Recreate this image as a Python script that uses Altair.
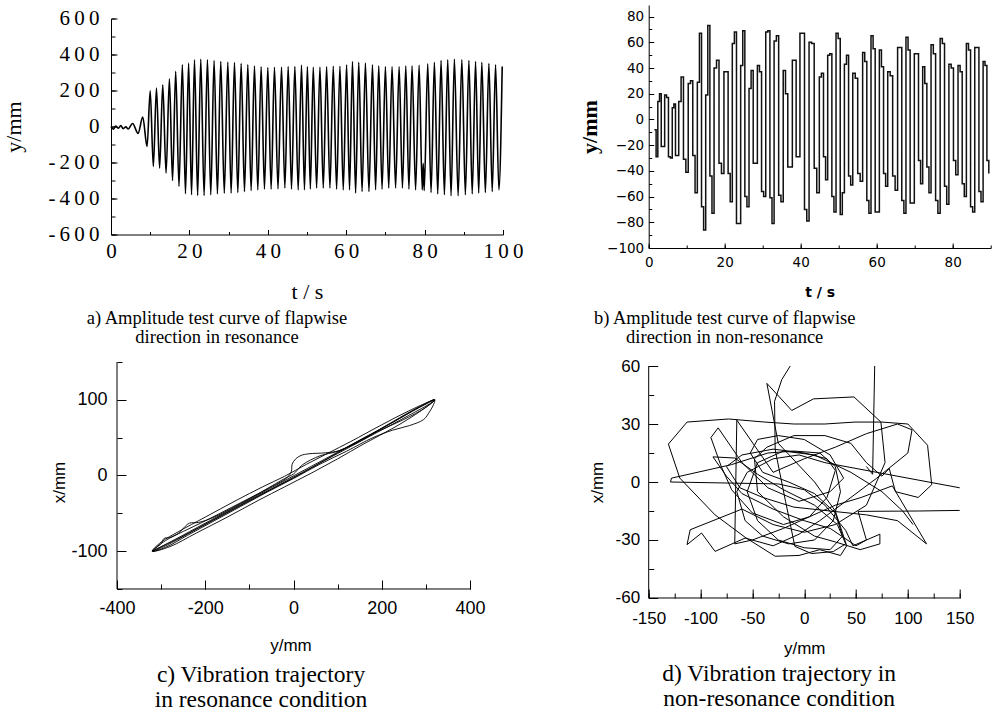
import altair as alt
import pandas as pd

# ---------------- (a) flapwise amplitude, resonance ----------------
a_early_t = [0.0, 0.6, 1.2, 1.9, 2.5, 3.1, 3.8, 4.4, 5.5, 6.9, 8.1, 9.2]
a_early_v = [0, -15, 2, -10, 5, -12, -2, -14, 17, -38, 52, -111]
a_peak_t = [10.0, 11.6, 13.2, 14.9, 16.5, 18.2, 19.8, 21.3, 22.9, 24.6, 26.3, 28.0, 29.8, 31.5,
            33.2, 34.9, 36.6, 38.3, 40.0, 41.7, 43.5, 45.2, 46.9, 48.6, 50.1, 51.6, 53.3, 55.0,
            56.7, 58.4, 60.1, 61.6, 63.2, 64.9, 66.7, 68.3, 70.0, 71.7, 73.5, 75.2, 76.8, 78.6,
            80.8, 82.5, 84.2, 85.9, 87.6, 89.5, 91.3, 93.0, 94.6, 96.4, 98.1, 99.8]
a_peak_v = [198, 213, 232, 265, 306, 343, 352, 370, 374, 370, 366, 361, 357, 355, 350, 343, 336,
            332, 328, 329, 330, 333, 333, 341, 333, 330, 330, 333, 335, 335, 343, 361, 356, 352,
            343, 337, 333, 333, 333, 337, 337, 341, 348, 356, 367, 370, 374, 370, 367, 361, 356,
            350, 343, 333]
a_trough_t = [10.8, 12.4, 14.05, 15.7, 17.35, 19.0, 20.55, 22.1, 23.75, 25.45, 27.15, 28.9, 30.65,
              32.35, 34.05, 35.75, 37.45, 39.15, 40.85, 42.6, 44.35, 46.05, 47.75, 49.35, 50.85,
              52.45, 54.15, 55.85, 57.55, 59.25, 60.85, 62.4, 64.05, 65.8, 67.5, 69.15, 70.85,
              72.6, 74.35, 76.0, 77.7, 79.4, 79.65, 79.9, 81.65, 83.35, 85.05, 86.75, 88.55, 90.4,
              92.15, 93.8, 95.5, 97.25, 98.95]
a_trough_v = [-222, -231, -259, -300, -333, -374, -379, -383, -383, -379, -374, -370, -370, -367,
              -361, -356, -352, -348, -348, -346, -342, -348, -352, -352, -348, -342, -342, -342,
              -348, -352, -352, -370, -361, -361, -352, -348, -342, -342, -342, -348, -352, -352,
              -205, -356, -367, -374, -379, -385, -385, -379, -374, -370, -367, -361, -352]

# ---------------- (b) flapwise amplitude, non-resonance ----------------
b_lead_t = [1.5, 1.95]
b_lead_v = [-8, -29]
b_cyc_t = [2.4, 4.2, 6.2, 7.9, 10.4, 12.8, 15.0, 17.2, 19.8, 22.0, 24.2, 26.4, 28.6, 30.8, 33.0,
           35.4, 37.8, 39.8, 42.2, 44.9, 47.1, 49.3, 51.5, 53.7, 56.3, 58.5, 60.7, 62.9, 65.5,
           67.7, 69.9, 72.1, 74.3, 76.7, 79.0, 81.4, 83.6, 85.8, 88.0]
b_up1 = [14, 19, 9, 14, 28, 29, 19, 40, 37, 59, 42, 24, 42, 68, 61, 38, 46, 67, 60, 33, 50, 67, 43,
         36, 52, 65, 54, 37, 56, 64, 51, 41, 58, 63, 43, 42, 59, 56, 45]
b_up2 = [20, 17, 12, 33, 30, 67, 73, 46, 37, 68, 69, 38, 37, 69, 65, 20, 46, 67, 59, 36, 51, 63, 50,
         32, 45, 55, 41, 34, 56, 54, 51, 28, 51, 59, 40, 37, 54, 56, 42]
b_dn1 = [-21, -29, -28, -31, -28, -68, -44, -34, -42, -81, -60, -34, -56, -61, -59, -37, -29, -70,
         -38, -29, -60, -74, -44, -42, -63, -72, -42, -44, -63, -65, -32, -37, -63, -52, -32, -50,
         -68, -56, -32]
b_dn2 = [-21, -30, -28, -41, -57, -86, -73, -42, -64, -81, -68, -34, -60, -81, -64, -37, -29, -79,
         -57, -47, -72, -57, -51, -48, -73, -72, -52, -55, -73, -65, -50, -57, -73, -66, -43, -60,
         -72, -64, -42]

# ---------------- (c) trajectory, resonance ----------------
c_y = [-320, -270, -200, -120, -40, 40, 120, 200, 270, 320,
       312, 260, 180, 100, 20, -60, -140, -220, -290, -320,
       -300, -293, -280, -260, -245, -236, -215, -180, -120, -60, -15, -5, -3, 5, 17, 35, 73, 104, 160, 230, 290, 320,
       316, 308, 295, 263, 225, 180, 120, 60, 0, -60, -120, -180, -240, -290, -320,
       -290, -250, -200, -140, -80, -20, 0, 20, 60, 100, 150, 210, 270, 320,
       290, 230, 160, 100, 40, -20, -80, -150, -220, -280, -320,
       -300, -260, -200, -130, -70, -20, 30, 80, 130, 200, 260, 320,
       300, 250, 190, 130, 70, 10, -50, -110, -180, -250, -320]
c_x = [-100, -85, -63, -38, -13, 12, 37, 62, 85, 100,
       96, 79, 54, 29, 4, -21, -46, -71, -93, -100,
       -90, -83, -82, -76, -67, -63, -62, -55, -37, -18, -3, 5, 15, 22, 26.5, 28.7, 30, 33, 50, 72, 92, 100,
       92, 84, 74, 66, 60, 50, 32, 15, -4, -22, -41, -60, -79, -95, -100,
       -86, -74, -60, -42, -24, -4, 2, 14, 26, 32, 45, 66, 86, 100,
       86, 64, 42, 22, 3, -15, -33, -55, -76, -94, -100,
       -88, -74, -55, -33, -15, -1, 15, 30, 45, 67, 85, 100,
       90, 74, 58, 40, 20, 0, -18, -36, -58, -80, -100]
c_frame_y = [-400, 400]   # x-axis span of panel (c)
c_frame_x = [-150, 150]   # y-axis span of panel (c)

# ---------------- (d) trajectory, non-resonance (three traced pieces) ----------------
d1_y = [60, 66, 68]
d1_x = [8, 4, 60]
d2_y = [-13.5, -21.6, -28.6, -28, -18, -9, 7, 28, 40, 32, 10, -20, -45, -67, -88, -75, -60, -30,
        0, 25, 50, 60, 52, 110, 150]
d2_x = [60, 53, 41.7, 16.7, -10, -33.3, -37, -36, -32, -22, -12, -4, 4, 12.4, 13, 3, -6, -14,
        -20, -24, -33, -30, -15.2, -15, -14.7]
d3_y = [150, 20, -5, -30, -55, -65, -57, -40, -15, 10, 28, 35, 30, 15, -10, -35, -70, -128, -129,
        -25, 0, 20, 40, 47, 73, 73, 54, 30, 10, -20, -45, -48, -36, -10, 20, 45, 60, 75, 82, 88,
        110, 123, 119, 100, 75, 49, 20, -10, -38, -73, -113, -131, -120, -86, -57, -28, -5, 15,
        35, 41, 30, 10, -25, -36, -12, 9, 48, 74, 78, 60, 30, 0, -30, -60, -110, -113, -99, -86,
        -57, -30, -5, 15, 40, 70, 100, 104, 90, 60, 30, 0, -30, -65, -67, -50, -20, 5, 30, 55,
        85, 118, 90, 60, 25, -10, -40, -62, -75, -60, -30, 0, 22, 30, 22, 5, -20, -50, -70, -80,
        -90, -83, -60, -35, -5, 25, 38, 25, 0, -25, -45, -52, -40, -15, 10, 30, 37, 25, 0, -25,
        -45, -55, -45, -20, 10, 45, 75, 95, 105]
d3_x = [-3, 10, 14, 12, 5, -5, -20, -28, -32, -30, -20, -5, 8, 15, 16, 15, 9, 2, 0,
        -1, -4, -12, -25, -33, -27, -32, -35, -31, -28, -18, -5, 12, 18, 24, 24, 20, 10, 3, 7, -5,
        -8, -1.4, 19, 30, 31, 31, 30, 30, 31, 32.6, 31, 19.6, 2, -17, -28.6, -38.4, -38, -35,
        -38, -33, -15, 0, 20, 51, 37, 43, 44, 31, 10, -12, -22, -26, -22, -14, -24.7, -32.4, -26.4, -35.9,
        -29, -33, -27, -20, -10, 2, 15, 27, 30, 25, 18, 12, 5, 32, -32, -30, -24, -18, -12, -8,
        -2, -32, -20, -17, -15, -13, -8, -3, 8, 14, 17, 15, 12, 6, -8, -18, -22, -16, -4, 8,
        23, 28, 10, -3, -10, -5, 2, 14, 22, 24, 22, 15, 5, 0, -6, -16, -28, -35, -34, -30,
        -20, -5, 10, 16, 14, 5, -5, -15, -22]
d_frame_y = [-150, 150]
d_frame_x = [-60, 60]

# ---------------- tables ----------------
a_rows = sorted(zip(a_early_t + a_peak_t + a_trough_t, a_early_v + a_peak_v + a_trough_v))
df_a = pd.DataFrame(a_rows, columns=["t", "v"])

b_t, b_v = list(b_lead_t), list(b_lead_v)
for k, t0 in enumerate(b_cyc_t):
    dt = (b_cyc_t[k + 1] - t0) / 4 if k + 1 < len(b_cyc_t) else 0.5
    for j, val in enumerate([b_up1[k], b_up2[k], b_dn1[k], b_dn2[k]]):
        b_t.append(t0 + j * dt)
        b_v.append(val)
df_b = pd.DataFrame({"t": b_t, "v": b_v})

df_c = pd.DataFrame({"y": c_y, "x": c_x, "i": range(len(c_y)), "seg": 0})

d_parts = []
for s, (py, px) in enumerate([(d1_y, d1_x), (d2_y, d2_x), (d3_y, d3_x)]):
    n = min(len(py), len(px))
    d_parts.append(pd.DataFrame({"y": py[:n], "x": px[:n], "seg": s}))
df_d = pd.concat(d_parts, ignore_index=True)
df_d["i"] = range(len(df_d))

BLACK = "#000000"
SERIF = "Liberation Serif"
SANS = "Liberation Sans"


def inward(n):
    return alt.ExprRef(expr=str(-n))


def major_axis(values, lab, ttl, ticklen, lpad, labexpr=None, offset=0, domain=True):
    kw = dict(values=values, tickSize=inward(ticklen), tickColor=BLACK, tickWidth=1,
              domain=domain, domainColor=BLACK, domainWidth=1, grid=False, labelOverlap=False,
              labelFlush=False, labelBound=False, labelPadding=lpad, labelColor=BLACK,
              labelFont=lab[0], labelFontSize=lab[1], labelFontWeight=lab[2],
              title=ttl[0], titleFont=ttl[1], titleFontSize=ttl[2], titleFontWeight=ttl[3],
              titleColor=BLACK, titlePadding=ttl[4])
    if labexpr:
        kw["labelExpr"] = labexpr
    if offset:
        kw["offset"] = offset
    return alt.Axis(**kw)


def minor_axis(values, orient, ticklen, offset=0):
    kw = dict(values=values, orient=orient, tickSize=inward(ticklen), tickColor=BLACK,
              tickWidth=1, domain=False, labels=False, grid=False, title=None)
    if offset:
        kw["offset"] = offset
    return alt.Axis(**kw)


def panel(df, xf, yf, xdom, ydom, w, h, mark, xmaj, xall, ymaj, yall, lab, xlpad, ylpad,
          xttl, yttl, majlen, minlen, caption, labexpr=None, ordered=False,
          xoff=0, yoff=0, frame=None):
    xs = alt.Scale(domain=xdom, nice=False, zero=False)
    ys = alt.Scale(domain=ydom, nice=False, zero=False)
    own_domain = frame is None
    enc = dict(
        x=alt.X(f"{xf}:Q", scale=xs,
                axis=major_axis(xmaj, lab, xttl, majlen[0], xlpad, labexpr, xoff, own_domain)),
        y=alt.Y(f"{yf}:Q", scale=ys,
                axis=major_axis(ymaj, lab, yttl, majlen[1], ylpad, labexpr, yoff, own_domain)),
    )
    if ordered:
        enc["order"] = alt.Order("i:Q")
        enc["detail"] = alt.Detail("seg:N")
    layers = [alt.Chart(df).mark_line(**mark).encode(**enc)]
    corner = pd.DataFrame({xf: [xdom[0]], yf: [ydom[0]]})
    layers.append(alt.Chart(corner).mark_point(opacity=0).encode(
        x=alt.X(f"{xf}:Q", scale=xs, axis=minor_axis(xall, "bottom", minlen[0], xoff)),
        y=alt.Y(f"{yf}:Q", scale=ys, axis=minor_axis(yall, "left", minlen[1], yoff)),
    ))
    if frame is not None:
        fx, fy = frame
        vert = pd.DataFrame({"fx": [fx[0]], "fy0": [fy[0]], "fy1": [fy[1]]})
        horz = pd.DataFrame({"fy": [fy[0]], "fx0": [fx[0]], "fx1": [fx[1]]})
        layers.append(alt.Chart(vert).mark_rule(color=BLACK, strokeWidth=1).encode(
            x=alt.X("fx:Q", scale=xs, axis=None), y=alt.Y("fy0:Q", scale=ys, axis=None),
            y2="fy1:Q"))
        layers.append(alt.Chart(horz).mark_rule(color=BLACK, strokeWidth=1).encode(
            y=alt.Y("fy:Q", scale=ys, axis=None), x=alt.X("fx0:Q", scale=xs, axis=None),
            x2="fx1:Q"))
    return alt.layer(*layers).resolve_axis(x="independent", y="independent").properties(
        width=w, height=h, title=caption)


def caption(lines, dx, offset, size, lh):
    return alt.TitleParams(text=lines, orient="bottom", anchor="middle", frame="group", dx=dx,
                           offset=offset, font=SERIF, fontSize=size, fontWeight="normal",
                           color=BLACK, lineHeight=lh)


spaced = "join(split(toString(datum.value), ''), '\u2009')"
plain = "toString(datum.value)"

pa = panel(df_a, "t", "v", [0, 100], [-600, 600], 392, 216,
           dict(color=BLACK, strokeWidth=1.6, interpolate="monotone"),
           list(range(0, 101, 20)), list(range(0, 101, 10)),
           list(range(-600, 601, 200)), list(range(-600, 601, 100)),
           (SERIF, 21, "normal"), 11, 18,
           ("t / s", SERIF, 22, "normal", 20), ("y/mm", SERIF, 22, "normal", 22),
           (5, 6), (3, 4),
           caption(["a) Amplitude test curve of flapwise", "direction in resonance"], -90, 6, 18.5, 19),
           labexpr=spaced)

pb = panel(df_b, "t", "v", [0, 90], [-100, 89], 342, 243,
           dict(color="#111111", strokeWidth=1.5, interpolate="step-after"),
           list(range(0, 81, 20)), list(range(0, 91, 10)),
           list(range(-100, 81, 20)), list(range(-100, 81, 10)),
           ("DejaVu Sans", 13.5, "normal"), 12, 10,
           ("t / s", "DejaVu Sans", 14, "bold", 17), ("y/mm", SERIF, 22, "bold", 5),
           (5, 5), (3, 3),
           caption(["b) Amplitude test curve of flapwise", "direction in non-resonance"], -95, 9, 18.5, 19))

# panel (c): plot box widened 6 px to the left and 13 px downward so that its
# axes sit where the reference has them; the axes are shifted back with offsets.
pc = panel(df_c, "y", "x", [-413.6, 400], [-167.2, 150], 359, 240,
           dict(color=BLACK, strokeWidth=0.9, interpolate="catmull-rom"),
           list(range(-400, 401, 200)), list(range(-400, 401, 100)),
           [-100, 0, 100], list(range(-150, 151, 50)),
           (SANS, 18, "normal"), 19, 19,
           ("y/mm", SANS, 17, "normal", 20), ("x/mm", SANS, 17, "normal", 2),
           (9, 9), (5, 5),
           caption(["c) Vibration trajectory", "in resonance condition"], -29.5, 10, 23.5, 25),
           labexpr=plain, ordered=True, xoff=-13, yoff=-6, frame=(c_frame_y, c_frame_x))

# panel (d): plot box 4 px taller at top and bottom (same height as c), axes pulled back.
pd_ = panel(df_d, "y", "x", [-150, 150], [-62.07, 62.07], 311, 240,
            dict(color=BLACK, strokeWidth=1.0),
            list(range(-150, 151, 50)), list(range(-150, 151, 25)),
            list(range(-60, 61, 30)), list(range(-60, 61, 15)),
            (SANS, 17, "normal"), 21, 18,
            ("y/mm", SANS, 17, "normal", 14), ("x/mm", SANS, 17, "normal", 9),
            (9, 9), (5, 5),
            caption(["d) Vibration trajectory in", "non-resonance condition"], -25, 6, 23.5, 25),
            labexpr=plain, ordered=True, xoff=-4, frame=(d_frame_y, d_frame_x))

chart = alt.concat(
    pa, pb, pc, pd_, columns=2,
    spacing={"row": 114, "column": 145.7},
    bounds="flush", align="each",
    center={"row": True, "column": False},
).properties(
    padding={"left": 2, "top": 5, "right": 3, "bottom": 3},
    background="white",
).configure_view(stroke=None)

chart.save("out.html", embed_options={"renderer": "svg", "actions": False})
